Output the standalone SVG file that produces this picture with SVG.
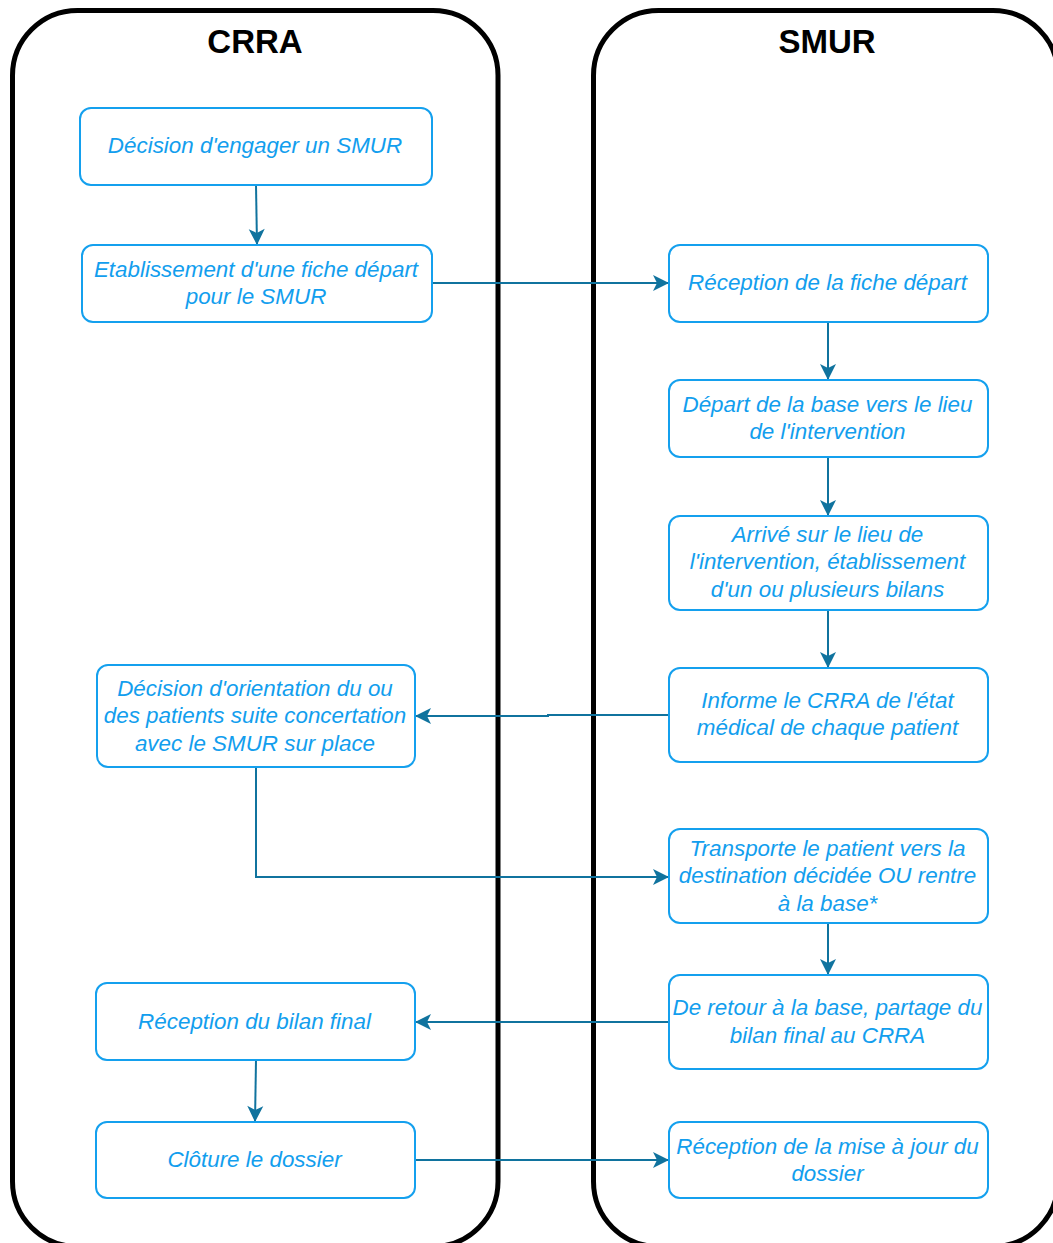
<svg xmlns="http://www.w3.org/2000/svg" width="1053" height="1243" viewBox="0 0 1053 1243">
<style>
.lane{fill:#FFFFFF;stroke:#000000;stroke-width:5}
.title{font-family:"Liberation Sans",Arial,sans-serif;font-weight:bold;font-size:33px;fill:#000000;text-anchor:middle}
.box{fill:#FFFFFF;stroke:#14A0EE;stroke-width:2}
.lbl{font-family:"Liberation Sans",Arial,sans-serif;font-style:italic;font-size:22.4px;fill:#129EEE;text-anchor:middle}
.conn{fill:none;stroke:#10739E;stroke-width:2}
</style>
<defs>
<marker id="arr" markerUnits="userSpaceOnUse" viewBox="-17 -9 18 18" markerWidth="18" markerHeight="18" refX="0" refY="0" orient="auto">
<path d="M0,0 L-16,-8 L-12,0 L-16,8 Z" fill="#10739E"/>
</marker>
</defs>
<rect width="1053" height="1243" fill="#FFFFFF"/>
<g id="lane-crra">
<rect class="lane" x="12.5" y="10.5" width="485.5" height="1236" rx="65" ry="65"/>
<text class="title" x="255" y="53">CRRA</text>
</g>
<g id="lane-smur">
<rect class="lane" x="593.5" y="10.5" width="464.5" height="1236" rx="65" ry="65"/>
<text class="title" x="827" y="53">SMUR</text>
</g>
<g id="connectors">
<path class="conn" d="M256,185 L257,245" marker-end="url(#arr)"/>
<path class="conn" d="M432,283 L669,283" marker-end="url(#arr)"/>
<path class="conn" d="M828,322 L828,380" marker-end="url(#arr)"/>
<path class="conn" d="M828,457 L828,516" marker-end="url(#arr)"/>
<path class="conn" d="M828,610 L828,668" marker-end="url(#arr)"/>
<path class="conn" d="M669,715 L548,715 L548,716 L415,716" marker-end="url(#arr)"/>
<path class="conn" d="M256,767 L256,877 L669,877" marker-end="url(#arr)"/>
<path class="conn" d="M828,923 L828,975" marker-end="url(#arr)"/>
<path class="conn" d="M669,1022 L415,1022" marker-end="url(#arr)"/>
<path class="conn" d="M256,1060 L255,1122" marker-end="url(#arr)"/>
<path class="conn" d="M415,1160 L669,1160" marker-end="url(#arr)"/>
</g>
<g id="n1">
<rect class="box" x="80" y="108" width="352" height="77" rx="11"/>
<text class="lbl" x="255" y="153">Décision d'engager un SMUR</text>
</g>
<g id="n2">
<rect class="box" x="82" y="245" width="350" height="77" rx="11"/>
<text class="lbl" x="256" y="276.5">Etablissement d'une fiche départ</text>
<text class="lbl" x="256" y="304">pour le SMUR</text>
</g>
<g id="n3">
<rect class="box" x="669" y="245" width="319" height="77" rx="11"/>
<text class="lbl" x="827.5" y="290">Réception de la fiche départ</text>
</g>
<g id="n4">
<rect class="box" x="669" y="380" width="319" height="77" rx="11"/>
<text class="lbl" x="827.5" y="411.5">Départ de la base vers le lieu</text>
<text class="lbl" x="827.5" y="439">de l'intervention</text>
</g>
<g id="n5">
<rect class="box" x="669" y="516" width="319" height="94" rx="11"/>
<text class="lbl" x="827.5" y="542">Arrivé sur le lieu de</text>
<text class="lbl" x="827.5" y="569">l'intervention, établissement</text>
<text class="lbl" x="827.5" y="596.5">d'un ou plusieurs bilans</text>
</g>
<g id="n6">
<rect class="box" x="669" y="668" width="319" height="94" rx="11"/>
<text class="lbl" x="827.5" y="707.5">Informe le CRRA de l'état</text>
<text class="lbl" x="827.5" y="735">médical de chaque patient</text>
</g>
<g id="n7">
<rect class="box" x="97" y="665" width="318" height="102" rx="11"/>
<text class="lbl" x="255" y="696">Décision d'orientation du ou</text>
<text class="lbl" x="255" y="723">des patients suite concertation</text>
<text class="lbl" x="255" y="750.5">avec le SMUR sur place</text>
</g>
<g id="n8">
<rect class="box" x="669" y="829" width="319" height="94" rx="11"/>
<text class="lbl" x="827.5" y="856">Transporte le patient vers la</text>
<text class="lbl" x="827.5" y="883">destination décidée OU rentre</text>
<text class="lbl" x="827.5" y="910.5">à la base*</text>
</g>
<g id="n9">
<rect class="box" x="669" y="975" width="319" height="94" rx="11"/>
<text class="lbl" x="827.5" y="1015">De retour à la base, partage du</text>
<text class="lbl" x="827.5" y="1042.5">bilan final au CRRA</text>
</g>
<g id="n10">
<rect class="box" x="96" y="983" width="319" height="77" rx="11"/>
<text class="lbl" x="254.5" y="1028.5">Réception du bilan final</text>
</g>
<g id="n11">
<rect class="box" x="96" y="1122" width="319" height="76" rx="11"/>
<text class="lbl" x="254.5" y="1167">Clôture le dossier</text>
</g>
<g id="n12">
<rect class="box" x="669" y="1122" width="319" height="76" rx="11"/>
<text class="lbl" x="827.5" y="1153.5">Réception de la mise à jour du</text>
<text class="lbl" x="827.5" y="1181">dossier</text>
</g>
</svg>
